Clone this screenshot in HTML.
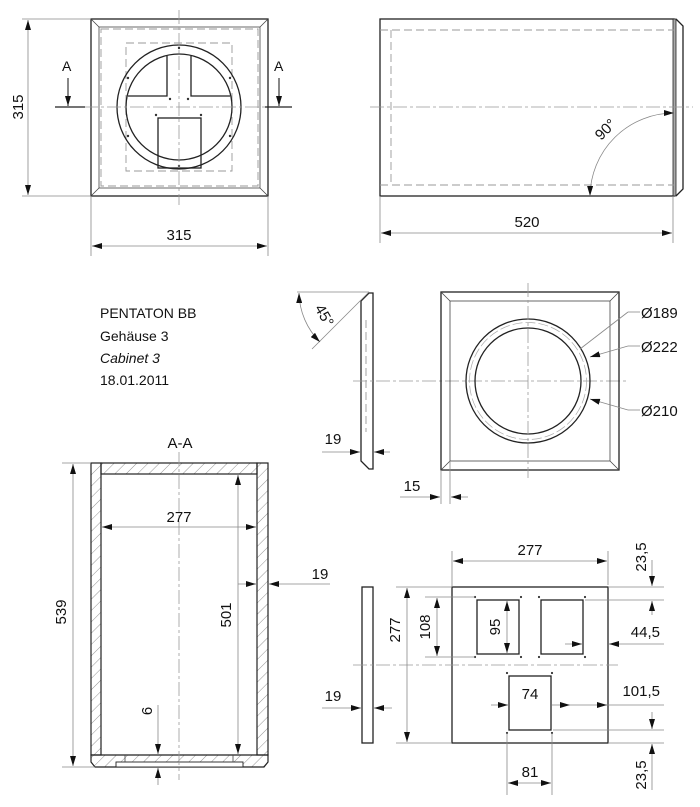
<!DOCTYPE html>
<html><head><meta charset="utf-8"><style>
html,body{margin:0;padding:0;background:#fff}
svg{display:block}
text{font-family:"Liberation Sans",sans-serif;fill:#111}
.o{fill:none;stroke:#222;stroke-width:1.3}
.t{fill:none;stroke:#444;stroke-width:0.8}
.d{fill:none;stroke:#888;stroke-width:0.8}
.h{fill:none;stroke:#999;stroke-width:0.9;stroke-dasharray:8 4}
.c{fill:none;stroke:#999;stroke-width:0.8;stroke-dasharray:14 3 3 3}
.a{fill:#111}
</style></head><body>
<svg width="700" height="807" viewBox="0 0 700 807" xmlns="http://www.w3.org/2000/svg">
<defs>
<marker id="m" viewBox="0 0 10 6" refX="10" refY="3" markerWidth="10" markerHeight="6" orient="auto-start-reverse" markerUnits="userSpaceOnUse"><path d="M0,0L10,3L0,6z" fill="#111"/></marker>
<pattern id="hp" width="8" height="8" patternUnits="userSpaceOnUse" patternTransform="rotate(45)"><line x1="0" y1="0" x2="0" y2="8" stroke="#777" stroke-width="0.8"/></pattern>
</defs>

<!-- TOP LEFT FRONT VIEW -->
<rect class="o" x="91" y="19" width="177" height="177"/>
<rect class="t" x="99" y="27" width="161" height="161"/>
<line class="t" x1="91" y1="19" x2="99" y2="27"/><line class="t" x1="268" y1="19" x2="260" y2="27"/>
<line class="t" x1="91" y1="196" x2="99" y2="188"/><line class="t" x1="268" y1="196" x2="260" y2="188"/>
<rect class="h" x="101" y="29" width="157" height="157"/>
<rect class="h" x="126" y="43" width="106" height="128"/>
<circle class="o" cx="179" cy="107" r="62"/>
<circle class="o" cx="179" cy="107" r="53"/>
<path class="o" d="M128,96 L167,96 L167,56 M191,56 L191,96 L230,96"/>
<rect class="o" x="158" y="118" width="43" height="50"/>
<g fill="#333"><circle cx="179" cy="48" r="1.2"/><circle cx="179" cy="166" r="1.2"/><circle cx="128" cy="78" r="1.2"/><circle cx="230" cy="78" r="1.2"/><circle cx="128" cy="136" r="1.2"/><circle cx="230" cy="136" r="1.2"/><circle cx="170" cy="99" r="1.2"/><circle cx="188" cy="99" r="1.2"/><circle cx="156" cy="115" r="1.2"/><circle cx="201" cy="115" r="1.2"/></g>
<line class="c" x1="84" y1="107" x2="276" y2="107"/>
<line class="c" x1="179" y1="10" x2="179" y2="205"/>
<line class="o" x1="55" y1="107" x2="85" y2="107"/><line class="o" x1="265" y1="107" x2="292" y2="107"/>
<line x1="68" y1="78" x2="68" y2="106" stroke="#111" stroke-width="1" marker-end="url(#m)"/>
<line x1="279" y1="78" x2="279" y2="106" stroke="#111" stroke-width="1" marker-end="url(#m)"/>
<text x="62" y="71" font-size="14">A</text><text x="274" y="71" font-size="14">A</text>
<line class="d" x1="22" y1="19" x2="91" y2="19"/><line class="d" x1="22" y1="196" x2="91" y2="196"/>
<line class="d" x1="28" y1="20" x2="28" y2="195" marker-start="url(#m)" marker-end="url(#m)"/>
<text font-size="15" transform="translate(23,107) rotate(-90)" text-anchor="middle">315</text>
<line class="d" x1="91" y1="196" x2="91" y2="256"/><line class="d" x1="268" y1="196" x2="268" y2="256"/>
<line class="d" x1="92" y1="246" x2="267" y2="246" marker-start="url(#m)" marker-end="url(#m)"/>
<text x="179" y="240" font-size="15" text-anchor="middle">315</text>

<!-- TOP RIGHT SIDE VIEW -->
<rect class="o" x="380" y="19" width="294" height="177"/>
<rect x="673" y="19" width="3" height="177" fill="#aaa" stroke="#222" stroke-width="0.8"/>
<path class="o" d="M676,19 L683,26 L683,189 L676,196"/>
<path class="h" d="M380,30 L674,30 M380,185 L674,185 M391,30 L391,185"/>
<line class="c" x1="370" y1="107" x2="693" y2="107"/>
<path class="d" d="M590,196 A84,84 0 0 1 674,113" marker-start="url(#m)" marker-end="url(#m)"/>
<text font-size="15" transform="translate(609,133) rotate(-45)" text-anchor="middle">90°</text>
<line class="d" x1="380" y1="196" x2="380" y2="243"/><line class="d" x1="673" y1="196" x2="673" y2="243"/>
<line class="d" x1="381" y1="233" x2="672" y2="233" marker-start="url(#m)" marker-end="url(#m)"/>
<text x="527" y="227" font-size="15" text-anchor="middle">520</text>

<!-- TEXT BLOCK -->
<text x="100" y="318" font-size="14">PENTATON BB</text>
<text x="100" y="341" font-size="14">Gehäuse 3</text>
<text x="100" y="363" font-size="14" font-style="italic">Cabinet 3</text>
<text x="100" y="385" font-size="14">18.01.2011</text>

<!-- FRONT PANEL SIDE -->
<path class="o" d="M369,293 L373,293 L373,469 L369,469 L361,461 L361,301 Z"/>
<path class="h" d="M366,320 L366,432"/>
<line class="d" x1="297" y1="292" x2="369" y2="292"/>
<line class="d" x1="369" y1="292" x2="312" y2="349"/>
<path class="d" d="M299,293 A71,71 0 0 0 320,342" marker-start="url(#m)" marker-end="url(#m)"/>
<text font-size="15" transform="translate(320,318) rotate(60)" text-anchor="middle">45°</text>
<line class="d" x1="322" y1="452" x2="360" y2="452" marker-end="url(#m)"/>
<line class="d" x1="390" y1="452" x2="374" y2="452" marker-end="url(#m)"/>
<text x="333" y="444" font-size="15" text-anchor="middle">19</text>
<line class="c" x1="353" y1="381" x2="628" y2="381"/>

<!-- FRONT PANEL -->
<rect class="o" x="441" y="292" width="178" height="178"/>
<rect class="t" x="450" y="301" width="160" height="160"/>
<line class="t" x1="441" y1="292" x2="450" y2="301"/><line class="t" x1="619" y1="292" x2="610" y2="301"/>
<line class="t" x1="441" y1="470" x2="450" y2="461"/><line class="t" x1="619" y1="470" x2="610" y2="461"/>
<circle class="o" cx="528" cy="381" r="62"/>
<circle class="o" cx="528" cy="381" r="53"/>
<circle cx="528" cy="381" r="58.5" fill="none" stroke="#aaa" stroke-width="0.7" stroke-dasharray="10 3"/>
<line class="c" x1="528" y1="283" x2="528" y2="478"/>
<line class="d" x1="580" y1="349" x2="628" y2="312"/><line class="d" x1="628" y1="312" x2="640" y2="312"/>
<line class="d" x1="628" y1="346" x2="590" y2="357" marker-end="url(#m)"/><line class="d" x1="628" y1="346" x2="640" y2="346"/>
<line class="d" x1="628" y1="410" x2="590" y2="399" marker-end="url(#m)"/><line class="d" x1="628" y1="410" x2="640" y2="410"/>
<text x="641" y="318" font-size="15">Ø189</text>
<text x="641" y="352" font-size="15">Ø222</text>
<text x="641" y="416" font-size="15">Ø210</text>
<line class="d" x1="441" y1="470" x2="441" y2="504"/><line class="d" x1="450" y1="461" x2="450" y2="504"/>
<line class="d" x1="400" y1="497" x2="440" y2="497" marker-end="url(#m)"/>
<line class="d" x1="468" y1="497" x2="451" y2="497" marker-end="url(#m)"/>
<text x="412" y="491" font-size="15" text-anchor="middle">15</text>

<!-- SECTION A-A -->
<text x="180" y="448" font-size="15" text-anchor="middle">A-A</text>
<rect x="91" y="463" width="10" height="292" fill="url(#hp)" stroke="#222" stroke-width="1.2"/>
<rect x="257" y="463" width="11" height="292" fill="url(#hp)" stroke="#222" stroke-width="1.2"/>
<rect x="101" y="463" width="156" height="11" fill="url(#hp)" stroke="#222" stroke-width="1.2"/>
<path d="M91,755 L268,755 L268,762 L264,767 L95,767 L91,762 Z" fill="url(#hp)" stroke="#222" stroke-width="1.2"/>
<rect x="116" y="762" width="127" height="5" fill="#fff" stroke="#222" stroke-width="0.9"/>
<line class="t" x1="125" y1="755" x2="125" y2="762"/><line class="t" x1="233" y1="755" x2="233" y2="762"/>
<line class="c" x1="179" y1="452" x2="179" y2="780"/>
<line class="d" x1="62" y1="463" x2="91" y2="463"/><line class="d" x1="62" y1="767" x2="95" y2="767"/>
<line class="d" x1="73" y1="464" x2="73" y2="766" marker-start="url(#m)" marker-end="url(#m)"/>
<text font-size="15" transform="translate(66,612) rotate(-90)" text-anchor="middle">539</text>
<line class="d" x1="102" y1="527" x2="256" y2="527" marker-start="url(#m)" marker-end="url(#m)"/>
<text x="179" y="522" font-size="15" text-anchor="middle">277</text>
<line class="d" x1="238" y1="475" x2="238" y2="754" marker-start="url(#m)" marker-end="url(#m)"/>
<text font-size="15" transform="translate(231,615) rotate(-90)" text-anchor="middle">501</text>
<line class="d" x1="238" y1="584" x2="256" y2="584" marker-end="url(#m)"/>
<line class="d" x1="330" y1="584" x2="269" y2="584" marker-end="url(#m)"/>
<text x="320" y="579" font-size="15" text-anchor="middle">19</text>
<line class="d" x1="158" y1="705" x2="158" y2="754" marker-end="url(#m)"/>
<line class="d" x1="158" y1="785" x2="158" y2="768" marker-end="url(#m)"/>
<text font-size="15" transform="translate(152,711) rotate(-90)" text-anchor="middle">6</text>

<!-- BOTTOM RIGHT -->
<rect class="o" x="362" y="587" width="11" height="156"/>
<line class="d" x1="322" y1="708" x2="361" y2="708" marker-end="url(#m)"/>
<line class="d" x1="392" y1="708" x2="374" y2="708" marker-end="url(#m)"/>
<text x="333" y="701" font-size="15" text-anchor="middle">19</text>
<rect class="o" x="452" y="587" width="156" height="156"/>
<rect class="o" x="477" y="600" width="42" height="54"/>
<rect class="o" x="541" y="600" width="42" height="54"/>
<rect class="o" x="509" y="676" width="42" height="54"/>
<g fill="#333"><circle cx="475" cy="597" r="1.1"/><circle cx="521" cy="597" r="1.1"/><circle cx="539" cy="597" r="1.1"/><circle cx="585" cy="597" r="1.1"/><circle cx="475" cy="657" r="1.1"/><circle cx="521" cy="657" r="1.1"/><circle cx="539" cy="657" r="1.1"/><circle cx="585" cy="657" r="1.1"/><circle cx="507" cy="673" r="1.1"/><circle cx="552" cy="673" r="1.1"/><circle cx="507" cy="733" r="1.1"/><circle cx="552" cy="733" r="1.1"/></g>
<line class="c" x1="353" y1="665" x2="618" y2="665"/>
<line class="d" x1="452" y1="587" x2="452" y2="551"/><line class="d" x1="608" y1="551" x2="608" y2="585"/>
<line class="d" x1="453" y1="561" x2="607" y2="561" marker-start="url(#m)" marker-end="url(#m)"/>
<text x="530" y="555" font-size="15" text-anchor="middle">277</text>
<line class="d" x1="396" y1="587" x2="452" y2="587"/><line class="d" x1="396" y1="743" x2="452" y2="743"/>
<line class="d" x1="407" y1="588" x2="407" y2="742" marker-start="url(#m)" marker-end="url(#m)"/>
<text font-size="15" transform="translate(400,630) rotate(-90)" text-anchor="middle">277</text>
<line class="d" x1="425" y1="597" x2="475" y2="597"/><line class="d" x1="425" y1="657" x2="475" y2="657"/>
<line class="d" x1="437" y1="598" x2="437" y2="656" marker-start="url(#m)" marker-end="url(#m)"/>
<text font-size="15" transform="translate(430,627) rotate(-90)" text-anchor="middle">108</text>
<line class="d" x1="507" y1="601" x2="507" y2="653" marker-start="url(#m)" marker-end="url(#m)"/>
<text font-size="15" transform="translate(500,627) rotate(-90)" text-anchor="middle">95</text>
<line class="d" x1="608" y1="587" x2="664" y2="587"/><line class="d" x1="585" y1="600" x2="664" y2="600"/>
<line class="d" x1="652" y1="560" x2="652" y2="586" marker-end="url(#m)"/>
<line class="d" x1="652" y1="615" x2="652" y2="601" marker-end="url(#m)"/>
<text font-size="15" transform="translate(646,557) rotate(-90)" text-anchor="middle">23,5</text>
<line class="d" x1="565" y1="644" x2="582" y2="644" marker-end="url(#m)"/>
<line class="d" x1="664" y1="644" x2="609" y2="644" marker-end="url(#m)"/>
<text x="660" y="637" font-size="15" text-anchor="end">44,5</text>
<line class="d" x1="491" y1="705" x2="508" y2="705" marker-end="url(#m)"/>
<line class="d" x1="570" y1="705" x2="552" y2="705" marker-start="url(#m)"/>
<line class="d" x1="570" y1="705" x2="664" y2="705"/>
<line class="d" x1="600" y1="705" x2="607" y2="705" marker-end="url(#m)"/>
<text x="530" y="699" font-size="15" text-anchor="middle">74</text>
<text x="660" y="696" font-size="15" text-anchor="end">101,5</text>
<line class="d" x1="553" y1="730" x2="664" y2="730"/><line class="d" x1="608" y1="743" x2="664" y2="743"/>
<line class="d" x1="652" y1="712" x2="652" y2="729" marker-end="url(#m)"/>
<line class="d" x1="652" y1="790" x2="652" y2="744" marker-end="url(#m)"/>
<text font-size="15" transform="translate(646,775) rotate(-90)" text-anchor="middle">23,5</text>
<line class="d" x1="507" y1="733" x2="507" y2="795"/><line class="d" x1="552" y1="733" x2="552" y2="795"/>
<line class="d" x1="508" y1="783" x2="551" y2="783" marker-start="url(#m)" marker-end="url(#m)"/>
<text x="530" y="777" font-size="15" text-anchor="middle">81</text>
</svg>
</body></html>
